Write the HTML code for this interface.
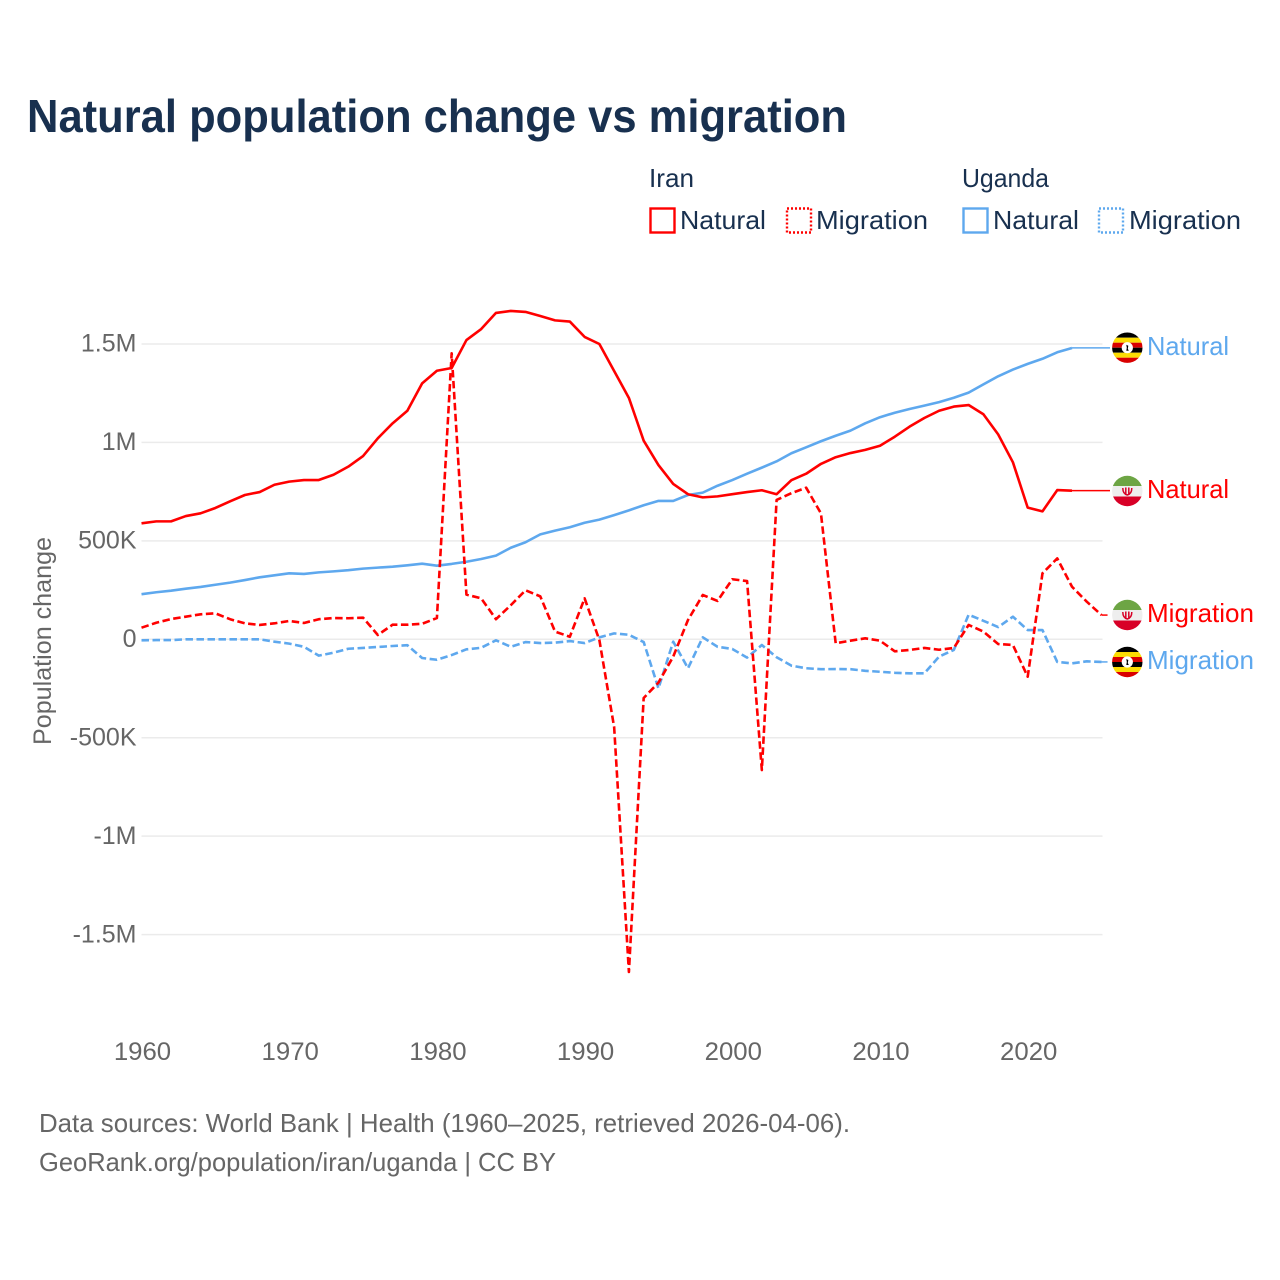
<!DOCTYPE html>
<html lang="en">
<head>
<meta charset="utf-8">
<title>Natural population change vs migration</title>
<style>
html,body{margin:0;padding:0;background:#fff;width:1280px;height:1280px;overflow:hidden}
svg{display:block}
text{font-family:"Liberation Sans",sans-serif}
</style>
</head>
<body>
<svg id="chart" xmlns="http://www.w3.org/2000/svg" width="1280" height="1280" viewBox="0 0 1280 1280">
  <defs>
    <clipPath id="flag-clip"><circle cx="0" cy="0" r="15.2"/></clipPath>
    <g id="flag-uganda">
      <g clip-path="url(#flag-clip)">
        <rect x="-16" y="-16" width="32" height="6" fill="#000"/>
        <rect x="-16" y="-10" width="32" height="5" fill="#fcdc04"/>
        <rect x="-16" y="-5" width="32" height="5" fill="#d90000"/>
        <rect x="-16" y="0" width="32" height="5" fill="#000"/>
        <rect x="-16" y="5" width="32" height="5" fill="#fcdc04"/>
        <rect x="-16" y="10" width="32" height="6" fill="#d90000"/>
        <circle cx="0" cy="0" r="5.6" fill="#fff"/>
        <path d="M-1 -3L1 -2L0.5 1L1.5 3L-1 3L-0.5 0Z" fill="#000"/>
      </g>
    </g>
    <g id="flag-iran">
      <g clip-path="url(#flag-clip)">
        <rect x="-16" y="-16" width="32" height="11" fill="#6da544"/>
        <rect x="-16" y="-5" width="32" height="10.5" fill="#eeeeee"/>
        <rect x="-16" y="5.5" width="32" height="11" fill="#d80027"/>
        <path d="M-4.5 -3C-4.5 2 -2 3.5 0 4C2 3.5 4.5 2 4.5 -3M-1.5 -3.5V3.5M1.5 -3.5V3.5" fill="none" stroke="#d80027" stroke-width="1.5"/>
      </g>
    </g>
  </defs>

  <text x="27" y="132" font-size="46" font-weight="700" fill="#18304f" textLength="820" lengthAdjust="spacingAndGlyphs">Natural population change vs migration</text>

  <g font-size="26" fill="#18304f">
    <text x="649" y="187" textLength="45" lengthAdjust="spacingAndGlyphs">Iran</text>
    <text x="962" y="187" textLength="87" lengthAdjust="spacingAndGlyphs">Uganda</text>
    <rect x="650.5" y="208.5" width="24" height="24" fill="#fff" stroke="#ff0000" stroke-width="2.4"/>
    <text x="680" y="229" textLength="86" lengthAdjust="spacingAndGlyphs">Natural</text>
    <rect x="787" y="208.5" width="24" height="24" fill="#fff" stroke="#ff0000" stroke-width="2.4" stroke-dasharray="2 2"/>
    <text x="816" y="229" textLength="112" lengthAdjust="spacingAndGlyphs">Migration</text>
    <rect x="963.5" y="208.5" width="24" height="24" fill="#fff" stroke="#5ea8ee" stroke-width="2.4"/>
    <text x="993" y="229" textLength="86" lengthAdjust="spacingAndGlyphs">Natural</text>
    <rect x="1099" y="208.5" width="24" height="24" fill="#fff" stroke="#5ea8ee" stroke-width="2.4" stroke-dasharray="2 2"/>
    <text x="1129" y="229" textLength="112" lengthAdjust="spacingAndGlyphs">Migration</text>
  </g>

  <text transform="translate(51 641) rotate(-90)" text-anchor="middle" font-size="25" fill="#666" textLength="208" lengthAdjust="spacingAndGlyphs">Population change</text>

  <g id="grid"></g>
  <g id="y-ticks"></g>
  <g id="x-ticks"></g>
  <g id="series"></g>

  <g font-size="26">
    <use href="#flag-uganda" x="1127.3" y="347.7"/>
    <text id="end-uganda-natural" x="1147" y="355" fill="#5ea8ee" textLength="82" lengthAdjust="spacingAndGlyphs">Natural</text>
    <use href="#flag-iran" x="1127.3" y="491"/>
    <text id="end-iran-natural" x="1147" y="498" fill="#ff0000" textLength="82" lengthAdjust="spacingAndGlyphs">Natural</text>
    <use href="#flag-iran" x="1127.3" y="615"/>
    <text id="end-iran-migration" x="1147" y="622" fill="#ff0000" textLength="107" lengthAdjust="spacingAndGlyphs">Migration</text>
    <use href="#flag-uganda" x="1127.3" y="662"/>
    <text id="end-uganda-migration" x="1147" y="669" fill="#5ea8ee" textLength="107" lengthAdjust="spacingAndGlyphs">Migration</text>
  </g>

  <text x="39" y="1132" font-size="26" fill="#666" textLength="811" lengthAdjust="spacingAndGlyphs">Data sources: World Bank | Health (1960–2025, retrieved 2026-04-06).</text>
  <text x="39" y="1171" font-size="26" fill="#666" textLength="517" lengthAdjust="spacingAndGlyphs">GeoRank.org/population/iran/uganda | CC BY</text>
</svg>
<script>
const startYear = 1960;
const endYear = 2025;
const xTickYears = [1960, 1970, 1980, 1990, 2000, 2010, 2020];
const yTickValues = [1500, 1000, 500, 0, -500, -1000, -1500];
const yTickLabels = ['1.5M', '1M', '500K', '0', '-500K', '-1M', '-1.5M'];

const iranNatural = [589,599,599,626,640,667,701,733,748,785,801,809,809,836,877,931,1021,1097,1161,1300,1364,1378,1520,1576,1658,1668,1663,1642,1620,1614,1536,1500,1363,1226,1009,885,789,737,721,726,737,748,757,737,808,841,891,925,946,962,983,1029,1080,1124,1161,1182,1190,1143,1041,899,669,650,758,755];
const ugandaNatural = [229,239,247,257,266,277,288,301,315,325,335,332,340,345,351,359,364,369,376,384,374,383,394,408,425,465,493,533,552,569,592,608,631,655,681,703,703,733,745,780,809,841,872,904,945,975,1006,1034,1060,1097,1128,1151,1170,1187,1205,1227,1253,1295,1336,1370,1399,1425,1458,1480];
const iranMigration = [59,84,103,115,127,132,102,81,73,81,93,83,102,108,107,110,22,74,74,79,108,1453,227,208,102,173,249,218,39,13,208,-4,-446,-1690,-298,-220,-88,98,225,195,305,296,-664,708,742,770,640,-20,-7,5,-7,-61,-54,-44,-53,-44,73,39,-24,-29,-190,335,411,267,191,123];
const ugandaMigration = [-5,-4,-4,0,0,0,0,0,0,-12,-22,-38,-83,-68,-48,-44,-39,-34,-30,-95,-104,-80,-51,-43,-5,-38,-14,-19,-17,-9,-19,10,30,23,-14,-249,-12,-147,10,-38,-49,-93,-29,-91,-134,-147,-152,-151,-152,-160,-165,-170,-173,-173,-88,-54,125,94,62,115,47,47,-115,-122,-112,-115];

const NS = 'http://www.w3.org/2000/svg';
const plotLeft = 141.5;
const plotRight = 1102.5;
const zeroY = 639.3;
const pxPerThousand = 295.3 / 1500;
const connectorEnd = 1110;

function xScale(year) {
  return plotLeft + (year - startYear) * 14.77;
}
function yScale(value) {
  return zeroY - value * pxPerThousand;
}
function make(tag, parent) {
  const el = document.createElementNS(NS, tag);
  parent.appendChild(el);
  return el;
}
function squeeze(el, ratio) {
  el.setAttribute('textLength', (el.getComputedTextLength() * ratio).toFixed(1));
  el.setAttribute('lengthAdjust', 'spacingAndGlyphs');
}

const gridGroup = document.getElementById('grid');
const yGroup = document.getElementById('y-ticks');
yTickValues.forEach(function (v, i) {
  const line = make('line', gridGroup);
  
  
  line.setAttribute('x1', plotLeft);
  line.setAttribute('x2', plotRight);
  line.setAttribute('y1', yScale(v));
  line.setAttribute('y2', yScale(v));
  line.setAttribute('stroke', '#ebebeb');
  line.setAttribute('stroke-width', '1.5');
  const label = make('text', yGroup);
  
  
  label.setAttribute('x', 136.5);
  label.setAttribute('y', yScale(v) + 7.7);
  label.setAttribute('text-anchor', 'end');
  label.setAttribute('font-size', '25');
  label.setAttribute('fill', '#666');
  label.textContent = yTickLabels[i];
});

const xGroup = document.getElementById('x-ticks');
xTickYears.forEach(function (year) {
  const label = make('text', xGroup);
  
  
  label.setAttribute('x', xScale(year) + 1);
  label.setAttribute('y', 1060);
  label.setAttribute('text-anchor', 'middle');
  label.setAttribute('font-size', '25');
  label.setAttribute('fill', '#666');
  label.textContent = String(year);
  squeeze(label, 1.03);
});

const seriesGroup = document.getElementById('series');
function drawSeries(values, color, dashed, name) {
  const points = values.map(function (v, i) {
    return xScale(startYear + i).toFixed(2) + ',' + yScale(v).toFixed(2);
  });
  const lastIndex = values.length - 1;
  const connector = make('line', seriesGroup);
  
  
  connector.setAttribute('x1', xScale(startYear + lastIndex));
  connector.setAttribute('x2', connectorEnd);
  connector.setAttribute('y1', yScale(values[lastIndex]));
  connector.setAttribute('y2', yScale(values[lastIndex]));
  connector.setAttribute('stroke', color);
  connector.setAttribute('stroke-width', '1.5');
  if (dashed) connector.setAttribute('stroke-dasharray', '6 3');
  const line = make('polyline', seriesGroup);
  
  
  line.setAttribute('points', points.join(' '));
  line.setAttribute('fill', 'none');
  line.setAttribute('stroke', color);
  line.setAttribute('stroke-width', '2.6');
  line.setAttribute('stroke-linejoin', 'round');
  if (dashed) line.setAttribute('stroke-dasharray', '7.5 3.5');
}
drawSeries(ugandaNatural, '#5ea8ee', false, 'line-uganda-natural');
drawSeries(ugandaMigration, '#5ea8ee', true, 'line-uganda-migration');
drawSeries(iranNatural, '#ff0000', false, 'line-iran-natural');
drawSeries(iranMigration, '#ff0000', true, 'line-iran-migration');
</script>
</body>
</html>
